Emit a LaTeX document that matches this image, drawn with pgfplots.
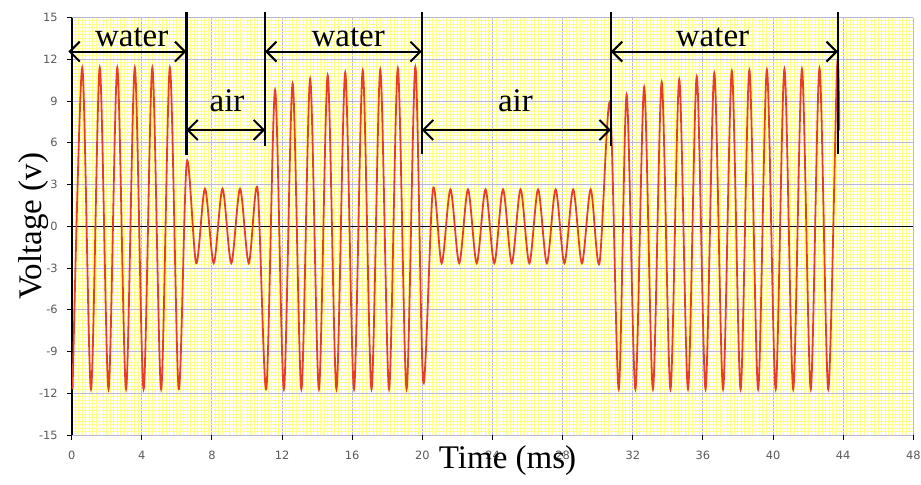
\documentclass[border=0pt]{standalone}
\usepackage{pgfplots}
\pgfplotsset{compat=1.18}
\usepackage{fontspec}
\setmainfont{Liberation Serif}
\newfontfamily\tickfont{DejaVu Sans}
\usetikzlibrary{arrows.meta}
\definecolor{sig}{RGB}{235,60,40}
\definecolor{majgrid}{RGB}{185,185,215}
\definecolor{mingrid}{RGB}{255,255,140}
\definecolor{ticktext}{RGB}{90,90,90}
\begin{document}
\begin{tikzpicture}
\useasboundingbox (0,0) rectangle (460.5pt,242pt);
\begin{axis}[
  at={(35.85pt,24.45pt)}, anchor=south west,
  scale only axis, width=420.8pt, height=208.8pt,
  xmin=0, xmax=48, ymin=-15, ymax=15,
  xtick={0,4,...,48}, ytick={-15,-12,...,15},
  minor x tick num=19, minor y tick num=11,
  grid=both,
  major grid style={majgrid, line width=0.5pt},
  minor grid style={mingrid, line width=0.5pt},
  minor tick length=0pt,
  major tick length=2.5pt,
  tick align=outside,
  xtick pos=left, ytick pos=left,
  every tick/.style={black, line width=0.5pt},
  axis line style={draw=none},
  clip=false,
  /pgf/number format/assume math mode=true,
  ticklabel style={font=\tickfont\fontsize{5.7}{6}\selectfont, text=ticktext},
  yticklabel style={xshift=-1pt},
  xticklabel style={yshift=-2pt},
]
\draw[black, line width=0.5pt] (axis cs:0,0) -- (axis cs:48,0);
\draw[black, line width=0.8pt] (axis cs:0,-15) -- (axis cs:0,15);
\addplot[sig, line width=0.9pt, smooth, tension=0.5] coordinates {
(0.05,-11.7) (0.6,11.4) (1.1,-11.7) (1.6,11.4) (2.1,-11.7) (2.6,11.4)
(3.1,-11.7) (3.6,11.4) (4.1,-11.7) (4.6,11.4) (5.1,-11.7) (5.6,11.4) (6.1,-11.7)
(6.56,4.6)
(7.1,-2.65) (7.6,2.7) (8.1,-2.65) (8.6,2.7) (9.1,-2.65) (9.6,2.7) (10.1,-2.65) (10.6,2.7)
(11.1,-11.7) (11.6,9.8) (12.1,-11.7) (12.6,10.25) (13.1,-11.7) (13.6,10.6) (14.1,-11.7)
(14.6,10.85) (15.1,-11.7) (15.6,11.05) (16.1,-11.7) (16.6,11.2) (17.1,-11.7) (17.6,11.25)
(18.1,-11.7) (18.6,11.35) (19.1,-11.7) (19.6,11.45) (20.05,-11.2)
(20.6,2.65) (21.1,-2.65) (21.6,2.65) (22.1,-2.65) (22.6,2.65) (23.1,-2.65) (23.6,2.65)
(24.1,-2.65) (24.6,2.65) (25.1,-2.65) (25.6,2.65) (26.1,-2.65) (26.6,2.65) (27.1,-2.65)
(27.6,2.65) (28.1,-2.65) (28.6,2.65) (29.1,-2.65) (29.6,2.65) (30.1,-2.65)
(30.7,8.8) (31.2,-11.7) (31.65,9.45) (32.15,-11.7) (32.65,10.0) (33.15,-11.7) (33.65,10.35)
(34.15,-11.7) (34.65,10.55) (35.15,-11.7) (35.65,10.75) (36.15,-11.7) (36.65,11.0)
(37.15,-11.7) (37.65,11.15) (38.15,-11.7) (38.65,11.2) (39.15,-11.7) (39.65,11.25)
(40.15,-11.7) (40.65,11.3) (41.15,-11.7) (41.65,11.3) (42.15,-11.7) (42.65,11.35)
(43.15,-11.7) (43.65,11.4) (43.78,6.9)
};
% boundary lines
\draw[black, line width=1.2pt] (axis cs:6.54,15.4) -- (axis cs:6.54,5.1);
\draw[black, line width=1.2pt] (axis cs:11.03,15.4) -- (axis cs:11.03,5.8);
\draw[black, line width=1.2pt] (axis cs:19.97,15.4) -- (axis cs:19.97,5.2);
\draw[black, line width=1.2pt] (axis cs:30.75,15.4) -- (axis cs:30.75,5.8);
\draw[black, line width=1.2pt] (axis cs:43.7,15.4) -- (axis cs:43.7,5.2);
% arrows
\draw[black, line width=1pt, {Straight Barb[length=5pt,width=10pt]}-{Straight Barb[length=5pt,width=10pt]}] (axis cs:-0.19,12.55) -- (axis cs:6.54,12.55);
\draw[black, line width=1pt, {Straight Barb[length=5pt,width=10pt]}-{Straight Barb[length=5pt,width=10pt]}] (axis cs:6.54,6.92) -- (axis cs:11.03,6.92);
\draw[black, line width=1pt, {Straight Barb[length=5pt,width=10pt]}-{Straight Barb[length=5pt,width=10pt]}] (axis cs:11.03,12.55) -- (axis cs:19.97,12.55);
\draw[black, line width=1pt, {Straight Barb[length=5pt,width=10pt]}-{Straight Barb[length=5pt,width=10pt]}] (axis cs:19.97,6.92) -- (axis cs:30.75,6.92);
\draw[black, line width=1pt, {Straight Barb[length=5pt,width=10pt]}-{Straight Barb[length=5pt,width=10pt]}] (axis cs:30.75,12.55) -- (axis cs:43.7,12.55);
% annotation text
\node[anchor=base, inner sep=0pt, font=\fontsize{16.5}{18}\selectfont] at (axis cs:3.42,12.94) {water};
\node[anchor=base, inner sep=0pt, font=\fontsize{16.5}{18}\selectfont] at (axis cs:8.86,8.23) {air};
\node[anchor=base, inner sep=0pt, font=\fontsize{16.5}{18}\selectfont] at (axis cs:15.77,12.94) {water};
\node[anchor=base, inner sep=0pt, font=\fontsize{16.5}{18}\selectfont] at (axis cs:25.31,8.23) {air};
\node[anchor=base, inner sep=0pt, font=\fontsize{16.5}{18}\selectfont] at (axis cs:36.55,12.94) {water};
% axis labels
\node[anchor=base, inner sep=0pt, font=\fontsize{16.5}{18}\selectfont] at (axis cs:24.86,-17.4) {Time (ms)};
\node[rotate=90, anchor=base, inner sep=0pt, font=\fontsize{16.5}{18}\selectfont] at (axis cs:-1.71,0) {Voltage (v)};
\end{axis}
\end{tikzpicture}
\end{document}
